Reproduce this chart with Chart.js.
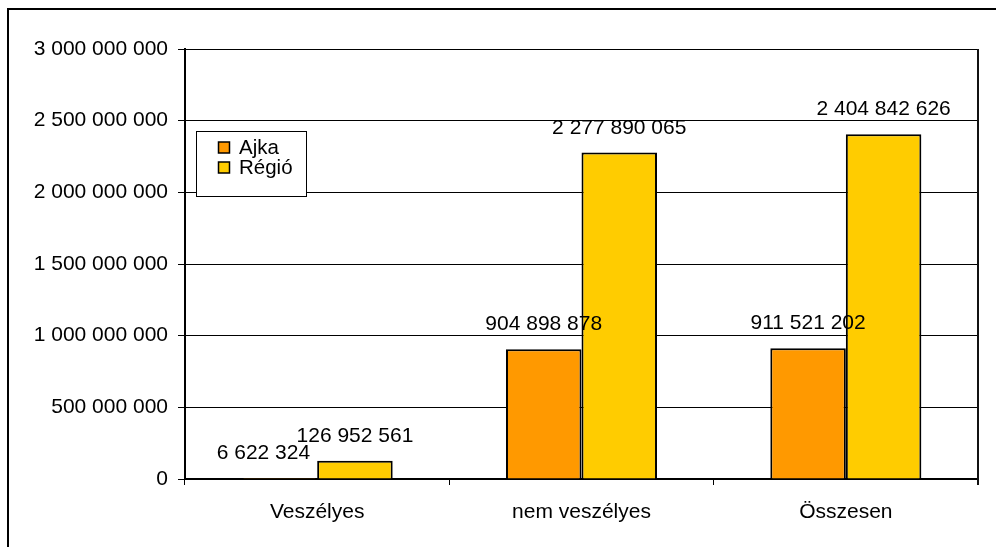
<!DOCTYPE html>
<html>
<head>
<meta charset="utf-8">
<script src="https://cdn.jsdelivr.net/npm/chart.js@4/dist/chart.umd.min.js"></script>
<style>
html,body{margin:0;padding:0;background:#fff;}
#wrap{width:996px;height:547px;position:relative;}
</style>
</head>
<body>
<div id="wrap"><canvas id="c" width="996" height="547"></canvas></div>
<script>
const categories = ['Veszélyes', 'nem veszélyes', 'Összesen'];
const seriesNames = ['Ajka', 'Régió'];
const ajkaValues = [6622324, 904898878, 911521202];
const regioValues = [126952561, 2277890065, 2404842626];
const yTickMax = 3000000000;
const yTickStep = 500000000;

const FONT = 'Liberation Sans, Arial, sans-serif';
function fmt(n){ return Math.round(n).toString().replace(/\B(?=(\d{3})+(?!\d))/g, ' '); }

const framePlugin = {
  id: 'frame',
  beforeDraw(chart){
    const ctx = chart.ctx;
    ctx.save();
    ctx.fillStyle = '#fff';
    ctx.fillRect(0,0,chart.width,chart.height);
    ctx.strokeStyle = '#000';
    ctx.lineWidth = 2;
    ctx.beginPath();
    ctx.moveTo(8, chart.height);
    ctx.lineTo(8, 9);
    ctx.lineTo(chart.width, 9);
    ctx.stroke();
    ctx.restore();
  },
  afterDraw(chart){
    const ctx = chart.ctx, a = chart.chartArea;
    ctx.save();
    ctx.strokeStyle = '#111';
    ctx.lineWidth = 2;
    ctx.beginPath();
    ctx.moveTo(a.right, a.top);
    ctx.lineTo(a.right, a.bottom + 6);
    ctx.stroke();
    // legend
    const lx = 196.5, ly = 131.5, lw = 110, lh = 65;
    ctx.fillStyle = '#fff';
    ctx.fillRect(lx, ly, lw, lh);
    ctx.strokeStyle = '#000';
    ctx.lineWidth = 1;
    ctx.strokeRect(lx, ly, lw, lh);
    ctx.font = '20.5px ' + FONT;
    ctx.textBaseline = 'middle';
    ctx.textAlign = 'left';
    chart.data.datasets.forEach((ds, i) => {
      const y = 147.5 + i * 20;
      ctx.fillStyle = ds.backgroundColor;
      ctx.fillRect(218.5, y - 5.5, 11, 11);
      ctx.strokeStyle = '#000';
      ctx.lineWidth = 1.5;
      ctx.strokeRect(218.5, y - 5.5, 11, 11);
      ctx.fillStyle = '#000';
      ctx.fillText(ds.label, 239, y + 1);
    });
    ctx.restore();
  },
  afterDatasetsDraw(chart){
    const ctx = chart.ctx;
    ctx.save();
    ctx.font = '21px ' + FONT;
    ctx.fillStyle = '#000';
    ctx.textAlign = 'center';
    ctx.textBaseline = 'alphabetic';
    chart.data.datasets.forEach((ds, di) => {
      const meta = chart.getDatasetMeta(di);
      meta.data.forEach((bar, i) => {
        let x = bar.x;
        // nudge a label away from the neighbouring taller bar (like the original)
        if (di === 0 && i === 0) x -= 16;
        ctx.fillText(fmt(ds.data[i]), x, bar.y - 19);
      });
    });
    ctx.restore();
  }
};

new Chart(document.getElementById('c'), {
  type: 'bar',
  data: {
    labels: categories,
    datasets: [
      { label: seriesNames[0], data: ajkaValues, backgroundColor: '#FF9900', borderColor: '#000', borderWidth: 2, categoryPercentage: 2/3.5, barPercentage: 1 },
      { label: seriesNames[1], data: regioValues, backgroundColor: '#FFCC00', borderColor: '#000', borderWidth: 2, categoryPercentage: 2/3.5, barPercentage: 1 }
    ]
  },
  options: {
    responsive: false,
    animation: false,
    devicePixelRatio: 1,
    layout: { padding: { left: 0, top: 49, right: 18, bottom: 0 } },
    plugins: { legend: { display: false }, tooltip: { enabled: false } },
    scales: {
      x: {
        grid: { drawOnChartArea: false, drawTicks: true, tickLength: 6, color: '#000', lineWidth: 1, offset: true },
        border: { color: '#000', width: 2 },
        ticks: { color: '#000', font: { family: FONT, size: 21 }, padding: 15 },
        afterFit(s){ s.height = 68; }
      },
      y: {
        min: 0, max: yTickMax,
        grid: { color: '#000', lineWidth: 1, tickLength: 7 },
        border: { color: '#000', width: 2 },
        ticks: { stepSize: yTickStep, color: '#000', font: { family: FONT, size: 21 }, padding: 10, callback: v => fmt(v) },
        afterFit(s){ s.width = 185; }
      }
    }
  },
  plugins: [framePlugin]
});
</script>
</body>
</html>
